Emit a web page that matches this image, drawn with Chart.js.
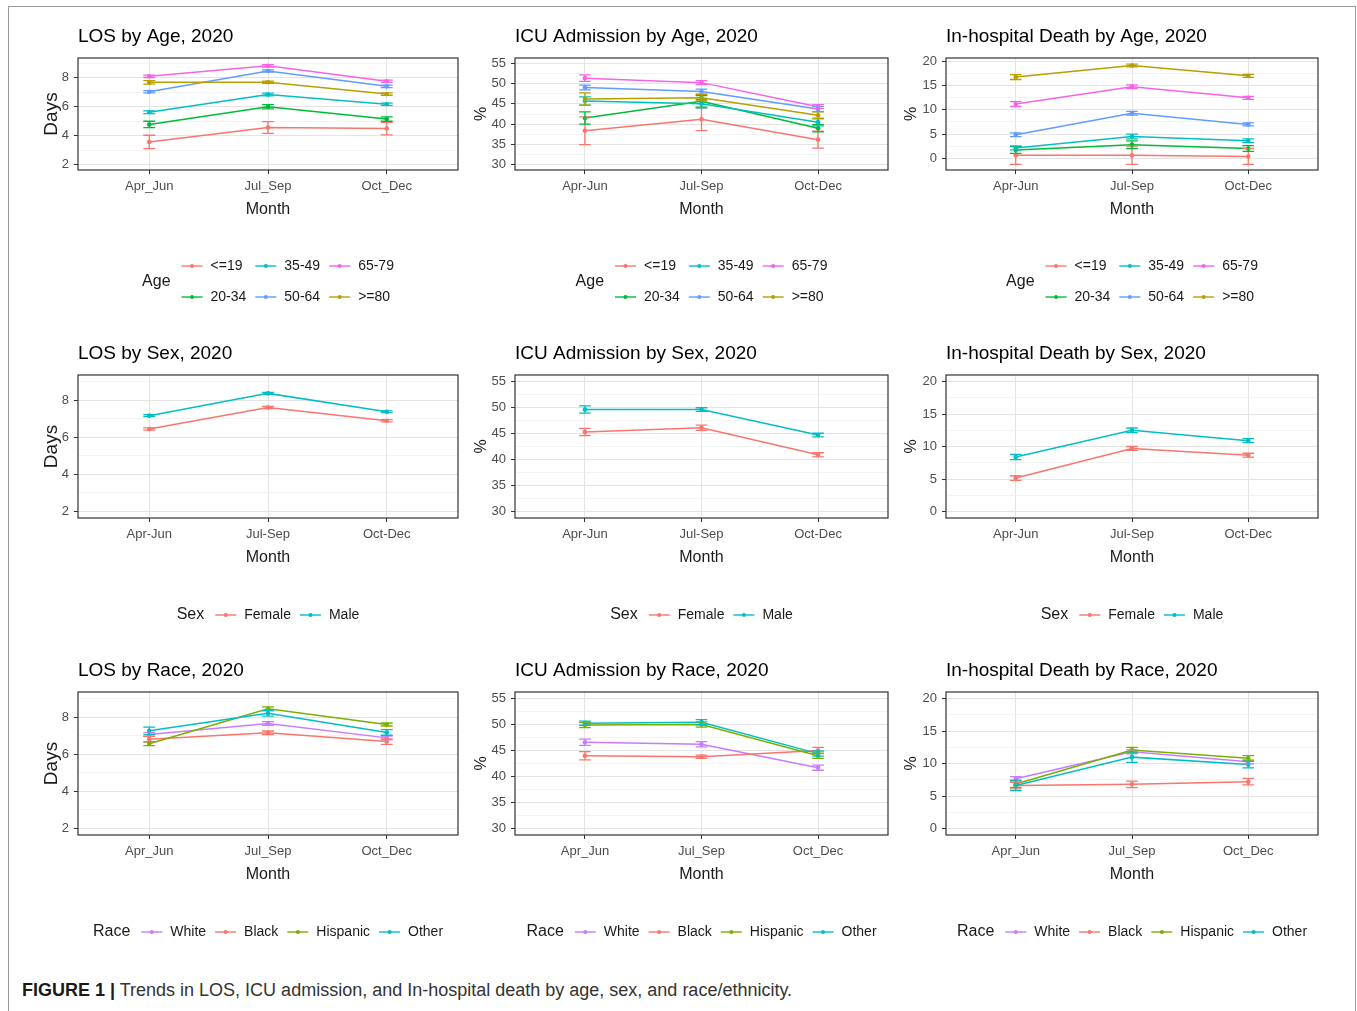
<!DOCTYPE html>
<html>
<head>
<meta charset="utf-8">
<script src="https://cdn.jsdelivr.net/npm/chart.js@4.4.1/dist/chart.umd.min.js"></script>
<style>
    html, body { margin: 0; padding: 0; background: #fff; }
    body { width: 1357px; height: 1011px; position: relative; overflow: hidden; }
    #marco { position: absolute; left: 8px; top: 6px; width: 1346px; height: 1030px; border: 1px solid #9c9c9c; }
    canvas { position: absolute; }
    #caption { position: absolute; left: 22px; top: 980px; font-size: 18px; font-family: "Liberation Sans Narrow", "Arial Narrow", "Liberation Sans", Arial, sans-serif; color: #333; white-space: nowrap; }
    #caption b { color: #1a1a1a; }
</style>
</head>
<body>
<div id="marco"></div>
<div id="caption"><b>FIGURE 1 |</b> Trends in LOS, ICU admission, and In-hospital death by age, sex, and race/ethnicity.</div>
<script>
// Categorías
const MONTHS_US = ["Apr_Jun", "Jul_Sep", "Oct_Dec"];
const MONTHS_DASH = ["Apr-Jun", "Jul-Sep", "Oct-Dec"];
const AGE_GROUPS = ["<=19", "20-34", "35-49", "50-64", "65-79", ">=80"];
const SEX_GROUPS = ["Female", "Male"];
const RACE_GROUPS = ["White", "Black", "Hispanic", "Other"];

// Ticks del eje Y (mayores con etiqueta, menores solo grilla)
const DAYS_TICKS = [2, 4, 6, 8];
const DAYS_MINOR = [3, 5, 7, 9];
const ICU_TICKS = [30, 35, 40, 45, 50, 55];
const ICU_MINOR = [32.5, 37.5, 42.5, 47.5, 52.5];
const DEATH_TICKS = [0, 5, 10, 15, 20];
const DEATH_MINOR = [2.5, 7.5, 12.5, 17.5];

// Límites de los ejes Y
const DAYS_LIMITS = [1.65, 9.35];
const ICU_LIMITS = [28.75, 56.25];
const DEATH_LIMITS = [-1, 21];
const DEATH_AGE_LIMITS = [-2.45, 20.75];

// LOS (días) por edad: una fila por grupo, columnas = trimestres
const losAge = [
    [3.58, 4.57, 4.50],
    [4.78, 6.00, 5.15],
    [5.62, 6.84, 6.17],
    [7.03, 8.46, 7.40],
    [8.09, 8.81, 7.75],
    [7.68, 7.68, 6.87]
];
const losAgeErr = [
    [0.46, 0.40, 0.43],
    [0.22, 0.15, 0.15],
    [0.10, 0.10, 0.08],
    [0.08, 0.08, 0.08],
    [0.08, 0.08, 0.08],
    [0.12, 0.08, 0.08]
];

// Ingreso a UCI (%) por edad
const icuAge = [
    [38.4, 41.2, 36.2],
    [41.5, 45.6, 39.0],
    [45.7, 45.0, 40.5],
    [49.0, 48.0, 43.7],
    [51.3, 50.2, 44.3],
    [46.2, 46.5, 42.2]
];
const icuAgeErr = [
    [3.4, 2.8, 2.1],
    [1.5, 1.4, 0.9],
    [1.0, 1.0, 0.9],
    [0.6, 0.6, 0.6],
    [0.8, 0.5, 0.5],
    [1.5, 0.8, 0.8]
];

// Muerte intrahospitalaria (%) por edad
const deathAge = [
    [0.60, 0.60, 0.35],
    [1.70, 2.80, 2.00],
    [2.10, 4.50, 3.60],
    [4.86, 9.30, 7.00],
    [11.2, 14.8, 12.5],
    [16.8, 19.2, 17.05]
];
const deathAgeErr = [
    [1.9, 1.9, 1.65],
    [0.7, 0.8, 0.6],
    [0.4, 0.5, 0.4],
    [0.4, 0.4, 0.3],
    [0.5, 0.4, 0.3],
    [0.5, 0.3, 0.3]
];

// Por sexo
const losSex = [[6.44, 7.60, 6.89], [7.16, 8.36, 7.37]];
const losSexErr = [[0.06, 0.06, 0.06], [0.05, 0.05, 0.05]];
const icuSex = [[45.3, 46.1, 40.9], [49.6, 49.6, 44.7]];
const icuSexErr = [[0.7, 0.5, 0.4], [0.7, 0.35, 0.35]];
const deathSex = [[5.15, 9.70, 8.66], [8.39, 12.5, 10.9]];
const deathSexErr = [[0.35, 0.3, 0.3], [0.4, 0.35, 0.3]];

// Por raza
const losRace = [[7.06, 7.66, 6.88], [6.81, 7.15, 6.68], [6.56, 8.45, 7.60], [7.26, 8.20, 7.17]];
const losRaceErr = [[0.1, 0.1, 0.1], [0.15, 0.1, 0.15], [0.1, 0.1, 0.08], [0.2, 0.15, 0.15]];
const icuRace = [[46.6, 46.2, 41.7], [44.0, 43.8, 45.0], [49.9, 50.0, 44.0], [50.26, 50.45, 44.4]];
const icuRaceErr = [[0.6, 0.5, 0.5], [0.8, 0.3, 0.6], [0.5, 0.5, 0.5], [0.4, 0.5, 0.5]];
const deathRace = [[7.67, 11.8, 10.26], [6.60, 6.80, 7.20], [6.84, 12.07, 10.8], [6.63, 10.98, 9.84]];
const deathRaceErr = [[0.3, 0.3, 0.3], [0.5, 0.5, 0.5], [0.5, 0.4, 0.4], [0.8, 0.8, 0.5]];

// Estilos
const AGE_COLORS = ["#F8766D", "#00BA38", "#00BFC4", "#619CFF", "#F564E3", "#B79F00"];
const SEX_COLORS = ["#F8766D", "#00BFC4"];
const RACE_COLORS = ["#C77CFF", "#F8766D", "#7CAE00", "#00BFC4"];
const FONT = "'Liberation Sans', Arial, sans-serif";
const TICK_COLOR = "#4D4D4D";
const GRID_MAJOR = "#E4E4E4";
const GRID_MINOR = "#F0F0F0";
const AXIS_COLOR = "#333333";
const X_H = 49.5;

// Geometría de cada celda (área de trazado)
const COLS = [
    { l: 78, r: 458, yW: 38 },
    { l: 515, r: 888, yW: 43 },
    { l: 946, r: 1318, yW: 44 }
];
const ROWS = [
    { t: 58, b: 170, bottom: 318, legendRows: 2 },
    { t: 375, b: 518, bottom: 640, legendRows: 1 },
    { t: 692, b: 835, bottom: 958, legendRows: 1 }
];

const panels = [
    { row: 0, col: 0, title: "LOS by Age, 2020", yTitle: "Days", months: MONTHS_US, lim: DAYS_LIMITS, major: DAYS_TICKS, minor: DAYS_MINOR, groups: AGE_GROUPS, colors: AGE_COLORS, values: losAge, errs: losAgeErr, legend: "Age" },
    { row: 0, col: 1, title: "ICU Admission by Age, 2020", yTitle: "%", months: MONTHS_DASH, lim: ICU_LIMITS, major: ICU_TICKS, minor: ICU_MINOR, groups: AGE_GROUPS, colors: AGE_COLORS, values: icuAge, errs: icuAgeErr, legend: "Age" },
    { row: 0, col: 2, title: "In-hospital Death by Age, 2020", yTitle: "%", months: MONTHS_DASH, lim: DEATH_AGE_LIMITS, major: DEATH_TICKS, minor: DEATH_MINOR, groups: AGE_GROUPS, colors: AGE_COLORS, values: deathAge, errs: deathAgeErr, legend: "Age" },
    { row: 1, col: 0, title: "LOS by Sex, 2020", yTitle: "Days", months: MONTHS_DASH, lim: DAYS_LIMITS, major: DAYS_TICKS, minor: DAYS_MINOR, groups: SEX_GROUPS, colors: SEX_COLORS, values: losSex, errs: losSexErr, legend: "Sex" },
    { row: 1, col: 1, title: "ICU Admission by Sex, 2020", yTitle: "%", months: MONTHS_DASH, lim: ICU_LIMITS, major: ICU_TICKS, minor: ICU_MINOR, groups: SEX_GROUPS, colors: SEX_COLORS, values: icuSex, errs: icuSexErr, legend: "Sex" },
    { row: 1, col: 2, title: "In-hospital Death by Sex, 2020", yTitle: "%", months: MONTHS_DASH, lim: DEATH_LIMITS, major: DEATH_TICKS, minor: DEATH_MINOR, groups: SEX_GROUPS, colors: SEX_COLORS, values: deathSex, errs: deathSexErr, legend: "Sex" },
    { row: 2, col: 0, title: "LOS by Race, 2020", yTitle: "Days", months: MONTHS_US, lim: DAYS_LIMITS, major: DAYS_TICKS, minor: DAYS_MINOR, groups: RACE_GROUPS, colors: RACE_COLORS, values: losRace, errs: losRaceErr, legend: "Race" },
    { row: 2, col: 1, title: "ICU Admission by Race, 2020", yTitle: "%", months: MONTHS_US, lim: ICU_LIMITS, major: ICU_TICKS, minor: ICU_MINOR, groups: RACE_GROUPS, colors: RACE_COLORS, values: icuRace, errs: icuRaceErr, legend: "Race" },
    { row: 2, col: 2, title: "In-hospital Death by Race, 2020", yTitle: "%", months: MONTHS_US, lim: DEATH_LIMITS, major: DEATH_TICKS, minor: DEATH_MINOR, groups: RACE_GROUPS, colors: RACE_COLORS, values: deathRace, errs: deathRaceErr, legend: "Race" }
];

// Plugin: barras de error, marco, título y leyenda estilo ggplot
const ggDecor = {
    id: "ggDecor",
    afterDatasetsDraw(chart) {
        const { ctx, scales: { x, y } } = chart;
        chart.data.datasets.forEach(ds => {
            ctx.save();
            ctx.strokeStyle = ds.borderColor;
            ctx.lineWidth = 1.3;
            ds.data.forEach((p, i) => {
                const e = ds.errors[i];
                const px = x.getPixelForValue(p.x);
                const x0 = x.getPixelForValue(p.x - 0.05), x1 = x.getPixelForValue(p.x + 0.05);
                const yt = y.getPixelForValue(p.y + e), yb = y.getPixelForValue(p.y - e);
                ctx.beginPath();
                ctx.moveTo(px, yt); ctx.lineTo(px, yb);
                ctx.moveTo(x0, yt); ctx.lineTo(x1, yt);
                ctx.moveTo(x0, yb); ctx.lineTo(x1, yb);
                ctx.stroke();
            });
            ctx.restore();
        });
    },
    afterDraw(chart, args, opts) {
        const { ctx, chartArea: a } = chart;
        ctx.save();
        // marco del panel
        ctx.strokeStyle = AXIS_COLOR;
        ctx.lineWidth = 1.2;
        ctx.strokeRect(a.left, a.top, a.right - a.left, a.bottom - a.top);
        // título
        ctx.fillStyle = "#000";
        ctx.font = "19px " + FONT;
        ctx.textBaseline = "middle";
        ctx.textAlign = "left";
        ctx.fillText(opts.title, a.left, a.top - 21.5);
        ctx.restore();
        drawLegend(chart, opts);
    }
};

function drawLegend(chart, opts) {
    const { ctx, chartArea: a } = chart;
    const sets = chart.data.datasets;
    const rows = opts.rows;
    const cols = Math.ceil(sets.length / rows);
    const KEY_W = 21, KEY_GAP = 8, ITEM_GAP = 9, TITLE_GAP = 11, ROW_H = 31;
    ctx.save();
    ctx.font = "14px " + FONT;
    const colW = [];
    for (let c = 0; c < cols; c++) {
        let w = 0;
        for (let r = 0; r < rows; r++) {
            const ds = sets[c * rows + r];
            if (ds) w = Math.max(w, ctx.measureText(ds.label).width);
        }
        colW.push(KEY_W + KEY_GAP + w);
    }
    ctx.font = "16px " + FONT;
    const titleW = ctx.measureText(opts.legend).width;
    const total = titleW + TITLE_GAP + colW.reduce((s, w) => s + w, 0) + ITEM_GAP * (cols - 1);
    let x = (a.left + a.right) / 2 - total / 2;
    const yMid = a.bottom + (rows === 1 ? 97 : 111.5);
    const y0 = yMid - (rows - 1) * ROW_H / 2;

    ctx.textBaseline = "middle";
    ctx.textAlign = "left";
    ctx.fillStyle = "#1a1a1a";
    ctx.fillText(opts.legend, x, yMid);
    x += titleW + TITLE_GAP;

    ctx.font = "14px " + FONT;
    for (let c = 0; c < cols; c++) {
        for (let r = 0; r < rows; r++) {
            const ds = sets[c * rows + r];
            if (!ds) continue;
            const y = y0 + r * ROW_H;
            ctx.strokeStyle = ds.borderColor;
            ctx.lineWidth = 1.4;
            ctx.beginPath();
            ctx.moveTo(x, y); ctx.lineTo(x + KEY_W, y);
            ctx.stroke();
            ctx.fillStyle = ds.borderColor;
            ctx.beginPath();
            ctx.arc(x + KEY_W / 2, y, 2, 0, Math.PI * 2);
            ctx.fill();
            ctx.fillStyle = "#1a1a1a";
            ctx.fillText(ds.label, x + KEY_W + KEY_GAP, y);
        }
        x += colW[c] + ITEM_GAP;
    }
    ctx.restore();
}

function crearPanel(p) {
    const col = COLS[p.col], row = ROWS[p.row];
    const left = col.l - col.yW - 8;
    const top = row.t - 45;
    const width = col.r + 14 - left;
    const height = row.bottom - top;

    const canvas = document.createElement("canvas");
    canvas.width = width;
    canvas.height = height;
    canvas.style.left = left + "px";
    canvas.style.top = top + "px";
    canvas.style.width = width + "px";
    canvas.style.height = height + "px";
    document.body.appendChild(canvas);

    const isMajor = v => p.major.includes(v);
    const n = p.groups.length;

    new Chart(canvas.getContext("2d"), {
        type: "line",
        data: {
            datasets: p.groups.map((g, k) => ({
                label: g,
                data: p.values[k].map((v, i) => ({ x: i + 1, y: v })),
                errors: p.errs[k],
                borderColor: p.colors[k],
                backgroundColor: p.colors[k],
                borderWidth: 1.5,
                pointRadius: 2.3,
                pointBorderWidth: 0,
                pointHoverRadius: 0,
                tension: 0,
                order: n - k
            }))
        },
        options: {
            responsive: false,
            animation: false,
            events: [],
            layout: { padding: { left: 8, top: 45, right: 14, bottom: row.bottom - row.b - X_H } },
            plugins: {
                legend: { display: false },
                tooltip: { enabled: false },
                ggDecor: { title: p.title, legend: p.legend, rows: row.legendRows }
            },
            scales: {
                x: {
                    type: "linear",
                    min: 0.4,
                    max: 3.6,
                    afterBuildTicks: s => { s.ticks = p.months.map((m, i) => ({ value: i + 1 })); },
                    afterFit: s => { s.height = X_H; },
                    ticks: {
                        callback: v => p.months[v - 1],
                        color: TICK_COLOR,
                        font: { family: FONT, size: 13 },
                        padding: 5,
                        autoSkip: false,
                        maxRotation: 0
                    },
                    grid: { color: GRID_MAJOR, lineWidth: 1, tickLength: 4, tickColor: AXIS_COLOR },
                    border: { display: false },
                    title: { display: true, text: "Month", color: "#1a1a1a", font: { family: FONT, size: 16 }, padding: 0 }
                },
                y: {
                    min: p.lim[0],
                    max: p.lim[1],
                    afterBuildTicks: s => {
                        s.ticks = [...p.major, ...p.minor].sort((a, b) => a - b).map(v => ({ value: v }));
                    },
                    afterFit: s => { s.width = col.yW; },
                    ticks: {
                        callback: v => isMajor(v) ? String(v) : "",
                        color: TICK_COLOR,
                        font: { family: FONT, size: 13 },
                        padding: 5,
                        autoSkip: false
                    },
                    grid: {
                        color: c => isMajor(c.tick.value) ? GRID_MAJOR : GRID_MINOR,
                        lineWidth: c => isMajor(c.tick.value) ? 1 : 0.8,
                        tickLength: 4,
                        tickColor: c => isMajor(c.tick.value) ? AXIS_COLOR : "rgba(0,0,0,0)"
                    },
                    border: { display: false },
                    title: {
                        display: true,
                        text: p.yTitle,
                        color: "#1a1a1a",
                        font: { family: FONT, size: p.yTitle === "Days" ? 19 : 16 },
                        padding: 0
                    }
                }
            }
        },
        plugins: [ggDecor]
    });
}

document.addEventListener("DOMContentLoaded", () => {
    panels.forEach(crearPanel);
});
</script>
</body>
</html>
